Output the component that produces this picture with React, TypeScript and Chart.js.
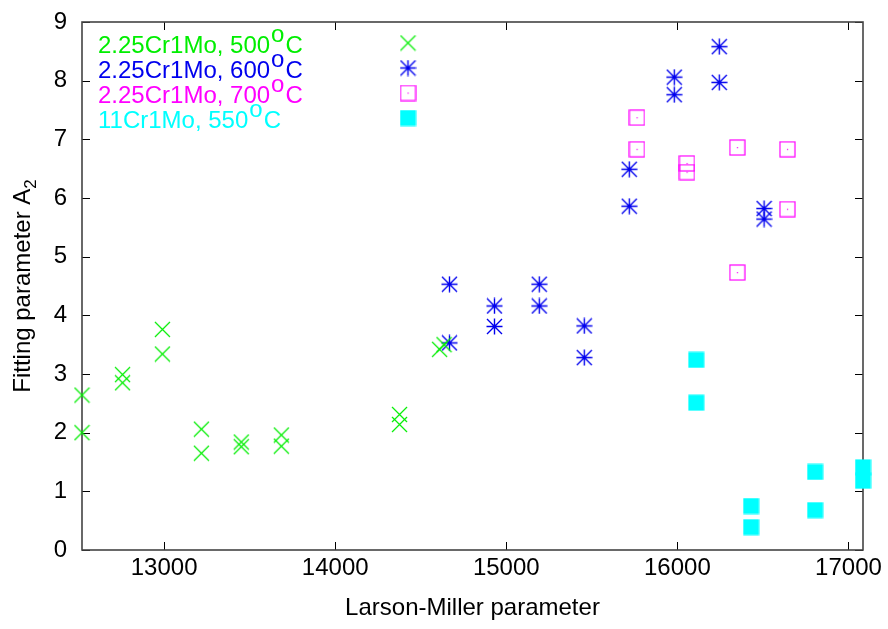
import React, { useEffect, useRef } from 'react';
import { Chart, registerables } from 'chart.js';

Chart.register(...registerables);

// ---- data ----
const lmp500 = [12520, 12520, 12757, 12757, 12990, 12990, 13218, 13218, 13451, 13451, 13685, 13685, 14376, 14376, 14610, 14636];
const a2_500 = [2.64, 2.0, 2.99, 2.85, 3.76, 3.34, 2.06, 1.65, 1.84, 1.76, 1.96, 1.77, 2.31, 2.14, 3.42, 3.50];

const lmp600 = [14668, 14668, 14931, 14931, 15193, 15193, 15456, 15456, 15719, 15719, 15982, 15982, 16245, 16245, 16507, 16507];
const a2_600 = [4.53, 3.53, 4.16, 3.81, 4.53, 4.16, 3.82, 3.28, 6.49, 5.86, 8.06, 7.76, 8.58, 7.97, 5.82, 5.64];

const lmp700 = [15764, 15764, 16056, 16056, 16350, 16350, 16643, 16643];
const a2_700 = [7.37, 6.83, 6.59, 6.44, 6.86, 4.73, 6.83, 5.81];

const lmp550 = [16110, 16110, 16431, 16431, 16805, 16805, 17085, 17085];
const a2_550 = [3.24, 2.51, 0.75, 0.39, 1.33, 0.68, 1.41, 1.18];

const seriesLabels = ['2.25Cr1Mo, 500', '2.25Cr1Mo, 600', '2.25Cr1Mo, 700', '11Cr1Mo, 550'];
const seriesColors = ['#00ee00', '#0000ee', '#ff00ff', '#00ffff'];
const seriesMarkers = ['cross', 'asterisk', 'box', 'filledBox'];

const xTickValues = [13000, 14000, 15000, 16000, 17000];
const yTickValues = [0, 1, 2, 3, 4, 5, 6, 7, 8, 9];
const xRange = [12520, 17085];
const yRange = [0, 9];

const xTitle = 'Larson-Miller parameter';
const yTitleMain = 'Fitting parameter A';
const yTitleSub = '2';
const degreeMark = 'o';
const degreeUnit = 'C';

const FONT = '"Liberation Sans", Arial, Helvetica, sans-serif';

function makeMarker(kind: string, color: string): HTMLCanvasElement {
  const c = document.createElement('canvas');
  c.width = 17;
  c.height = 17;
  const g = c.getContext('2d')!;
  g.strokeStyle = color;
  g.fillStyle = color;
  g.lineWidth = 1.2;
  if (kind === 'cross') {
    g.beginPath();
    g.moveTo(1, 1); g.lineTo(16, 16);
    g.moveTo(16, 1); g.lineTo(1, 16);
    g.stroke();
  } else if (kind === 'asterisk') {
    g.lineWidth = 1.4;
    g.beginPath();
    g.moveTo(1, 1); g.lineTo(16, 16);
    g.moveTo(16, 1); g.lineTo(1, 16);
    g.moveTo(0.5, 8.5); g.lineTo(16.5, 8.5);
    g.moveTo(8.5, 0.5); g.lineTo(8.5, 16.5);
    g.stroke();
    g.beginPath();
    g.arc(8.5, 8.5, 1.6, 0, Math.PI * 2);
    g.fill();
  } else if (kind === 'box') {
    g.strokeRect(1, 1, 15, 15);
    g.fillRect(8, 8, 1.2, 1.2);
  } else {
    g.fillRect(0.5, 0.5, 16, 16);
  }
  return c;
}

export default function App() {
  const ref = useRef<HTMLCanvasElement | null>(null);

  useEffect(() => {
    if (!ref.current) return;
    const markers = seriesMarkers.map((m, i) => makeMarker(m, seriesColors[i]));
    const xs = [lmp500, lmp600, lmp700, lmp550];
    const ys = [a2_500, a2_600, a2_700, a2_550];

    const datasets = xs.map((xv, i) => ({
      label: seriesLabels[i],
      data: xv.map((x, j) => ({ x, y: ys[i][j] })),
      pointStyle: markers[i] as any,
      pointRadius: 8,
      showLine: false,
      clip: false as any,
      borderColor: seriesColors[i],
      backgroundColor: seriesColors[i],
    }));

    const framePlugin = {
      id: 'gnuFrame',
      beforeDatasetsDraw(chart: any) {
        const { ctx, chartArea } = chart;
        const { left, right, top, bottom } = chartArea;
        const xs = chart.scales.x;
        const ys = chart.scales.y;
        ctx.save();
        ctx.strokeStyle = '#000';
        ctx.lineWidth = 1;
        ctx.beginPath();
        const tl = 8;
        xTickValues.forEach((v) => {
          const px = Math.round(xs.getPixelForValue(v)) + 0.5;
          ctx.moveTo(px, bottom); ctx.lineTo(px, bottom - tl);
          ctx.moveTo(px, top); ctx.lineTo(px, top + tl);
        });
        yTickValues.forEach((v) => {
          const py = Math.round(ys.getPixelForValue(v)) + 0.5;
          ctx.moveTo(left, py); ctx.lineTo(left + tl, py);
          ctx.moveTo(right, py); ctx.lineTo(right - tl, py);
        });
        ctx.stroke();
        ctx.strokeStyle = '#444';
        ctx.lineWidth = 1.6;
        ctx.strokeRect(left, top, right - left, bottom - top);
        ctx.restore();
      },
      afterDraw(chart: any) {
        const { ctx, chartArea } = chart;
        ctx.save();
        // legend
        ctx.textBaseline = 'alphabetic';
        ctx.textAlign = 'left';
        seriesLabels.forEach((lab, i) => {
          const base = 53 + 25 * i;
          ctx.fillStyle = seriesColors[i];
          ctx.font = `24px ${FONT}`;
          let x = 98;
          ctx.fillText(lab, x, base);
          x += ctx.measureText(lab).width + 1;
          ctx.fillText(degreeMark, x, base - 11);
          x += ctx.measureText(degreeMark).width + 1;
          ctx.fillText(degreeUnit, x, base);
          const m = markers[i];
          ctx.drawImage(m, 408 - m.width / 2, base - 10 - m.height / 2);
        });
        // y title with subscript
        const cy = (chartArea.top + chartArea.bottom) / 2;
        ctx.font = `24px ${FONT}`;
        const wMain = ctx.measureText(yTitleMain).width;
        ctx.font = `17px ${FONT}`;
        const wSub = ctx.measureText(yTitleSub).width;
        const total = wMain + wSub;
        ctx.translate(30, cy);
        ctx.rotate(-Math.PI / 2);
        ctx.fillStyle = '#000';
        ctx.font = `24px ${FONT}`;
        ctx.fillText(yTitleMain, -total / 2, 0);
        ctx.font = `17px ${FONT}`;
        ctx.fillText(yTitleSub, -total / 2 + wMain, 6);
        ctx.restore();
      },
    };

    const chart = new Chart(ref.current, {
      type: 'scatter',
      data: { datasets },
      options: {
        responsive: false,
        animation: false,
        layout: { autoPadding: false, padding: { left: 0, right: 25, top: 22, bottom: 0 } },
        plugins: { legend: { display: false }, tooltip: { enabled: false } },
        scales: {
          x: {
            type: 'linear',
            min: xRange[0],
            max: xRange[1],
            afterBuildTicks: (s: any) => { s.ticks = xTickValues.map((v) => ({ value: v })); },
            afterFit: (s: any) => { s.height = 79; s.paddingLeft = 0; s.paddingRight = 0; },
            grid: { display: false, drawTicks: false },
            border: { display: false },
            ticks: { font: { family: FONT, size: 24 }, color: '#000', padding: 4, maxRotation: 0, autoSkip: false, callback: (v: any) => String(v) },
            title: { display: true, text: xTitle, font: { family: FONT, size: 24 }, color: '#000', padding: { top: 0, bottom: 6 } },
          },
          y: {
            type: 'linear',
            min: yRange[0],
            max: yRange[1],
            afterBuildTicks: (s: any) => { s.ticks = yTickValues.map((v) => ({ value: v })); },
            afterFit: (s: any) => { s.width = 82; s.paddingTop = 0; s.paddingBottom = 0; },
            grid: { display: false, drawTicks: false },
            border: { display: false },
            ticks: { font: { family: FONT, size: 24 }, color: '#000', padding: 15, autoSkip: false, callback: (v: any) => String(v) },
          },
        },
      },
      plugins: [framePlugin],
    } as any);
    return () => chart.destroy();
  }, []);

  return (
    <div style={{ position: 'fixed', left: 0, top: 0, width: 888, height: 629, background: '#fff' }}>
      <canvas ref={ref} width={888} height={629} style={{ display: 'block' }} />
    </div>
  );
}
